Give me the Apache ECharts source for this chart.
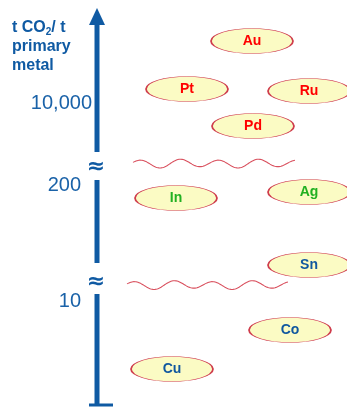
<!DOCTYPE html>
<html><head><meta charset="utf-8">
<script src="https://cdn.jsdelivr.net/npm/echarts@6/dist/echarts.min.js"></script>
<style>html,body{margin:0;padding:0;background:#fff}#c{width:347px;height:408px}</style>
</head><body><div id="c"></div>
<script>
// Metals placed on the diagram: horizontal column and vertical level (higher = more t CO2 / t)
const metals      = ['Au', 'Pt', 'Ru', 'Pd', 'In', 'Ag', 'Sn', 'Co', 'Cu'];
const metalColumn = [252, 187, 309, 253, 176, 309, 309, 290, 172];
const metalLevel  = [367, 319, 317, 282, 210, 216, 143, 78, 39];
const metalGroup  = ['precious', 'precious', 'precious', 'precious', 'minor', 'minor', 'base', 'base', 'base'];

// Axis tick labels and their levels
const tickLabels = ['10,000', '200', '10'];
const tickLevels = [305, 223, 107];

// Axis pieces (levels) and breaks
const segLo = [2, 145, 256];
const segHi = [114, 228, 384];
const breakLevels = [241, 126];
const waveLevels = [244.5, 123];
const waveStart = [133, 127];
const waveEnd = [295, 288];

const AXIS_X = 97;
const BLUE = '#0f5aa3';
const groupColor = { precious: '#ff0000', minor: '#22b022', base: '#10579f' };

const chart = echarts.init(document.getElementById('c'), null, { renderer: 'canvas' });

const ellipse = 'path://M0 50A50 50 0 1 1 100 50A50 50 0 1 1 0 50Z';

chart.setOption({
  animation: false,
  backgroundColor: '#ffffff',
  grid: { left: 0, right: 0, top: 0, bottom: 0, containLabel: false },
  xAxis: { type: 'value', min: 0, max: 347, show: false },
  yAxis: { type: 'value', min: 0, max: 408, show: false },
  graphic: [{
    type: 'text', left: 12, top: 20, z: 10,
    style: {
      text: '{a|t CO}{s|2}{a|/ t}\n{a|primary}\n{a|metal}',
      rich: {
        a: { fontFamily: 'Liberation Sans', fontWeight: 'bold', fontSize: 16, fill: BLUE, lineHeight: 19 },
        s: { fontFamily: 'Liberation Sans', fontWeight: 'bold', fontSize: 10, fill: BLUE, lineHeight: 19, verticalAlign: 'bottom', padding: [7, 0, 0, 0] }
      }
    }
  }],
  series: [
    {
      type: 'custom',
      coordinateSystem: 'cartesian2d',
      silent: true,
      data: segLo.map((lo, i) => [AXIS_X, lo, segHi[i]]),
      renderItem: function (params, api) {
        const x = api.value(0);
        const p1 = api.coord([x, api.value(1)]);
        const p2 = api.coord([x, api.value(2)]);
        const children = [{
          type: 'line',
          shape: { x1: p1[0], y1: p1[1], x2: p2[0], y2: p2[1] },
          style: { stroke: BLUE, lineWidth: 5 }
        }];
        if (params.dataIndex === 2) {
          const tip = api.coord([x, 400]);
          children.push({
            type: 'polygon',
            shape: { points: [[tip[0], tip[1]], [tip[0] - 8, p2[1] + 1], [tip[0] + 8, p2[1] + 1]] },
            style: { fill: BLUE }
          });
        }
        if (params.dataIndex === 0) {
          children.push({
            type: 'line',
            shape: { x1: p1[0] - 8, y1: p1[1] - 1, x2: p1[0] + 16, y2: p1[1] - 1 },
            style: { stroke: BLUE, lineWidth: 3 }
          });
        }
        return { type: 'group', children: children };
      }
    },
    {
      type: 'custom',
      coordinateSystem: 'cartesian2d',
      silent: true,
      data: breakLevels.map((lv, i) => [AXIS_X, lv, waveStart[i], waveEnd[i], waveLevels[i]]),
      renderItem: function (params, api) {
        const c = api.coord([api.value(0), api.value(1)]);
        const a = api.coord([api.value(2), api.value(4)]);
        const b = api.coord([api.value(3), api.value(4)]);
        const pts = [];
        const wl = 39, amp = 3.8;
        for (let px = a[0]; px <= b[0]; px += 1) {
          const t = (px - a[0]) / wl * 2 * Math.PI;
          pts.push([px, a[1] - amp * Math.sin(t + 0.3) + 0.8 * Math.sin(t * 0.5)]);
        }
        return {
          type: 'group',
          children: [
            {
              type: 'text',
              style: {
                text: '≈', x: c[0] - 1, y: c[1], align: 'center', verticalAlign: 'middle',
                fontFamily: 'DejaVu Sans', fontWeight: 'bold', fontSize: 22, fill: BLUE
              }
            },
            {
              type: 'polyline',
              shape: { points: pts },
              style: { stroke: '#d9505e', lineWidth: 1.1, fill: null }
            }
          ]
        };
      }
    },
    {
      type: 'scatter',
      silent: true,
      symbolSize: 0,
      itemStyle: { opacity: 1 },
      data: tickLabels.map((t, i) => ({ value: [t === '10,000' ? 92 : 81, tickLevels[i]], name: t })),
      label: {
        show: true, position: 'left', distance: 0,
        formatter: '{b}', fontFamily: 'Liberation Sans', fontSize: 20, color: '#1a62a8'
      }
    },
    {
      type: 'scatter',
      silent: true,
      symbol: ellipse,
      symbolSize: [82, 25],
      itemStyle: { color: '#fbfbc4', borderColor: '#cf3c4c', borderWidth: 1, opacity: 1 },
      data: metals.map((m, i) => ({
        name: m,
        value: [metalColumn[i], metalLevel[i]],
        label: { color: groupColor[metalGroup[i]] }
      })),
      label: {
        show: true, position: 'inside', formatter: '{b}',
        fontFamily: 'Liberation Sans', fontWeight: 'bold', fontSize: 14
      }
    }
  ]
});
</script>
</body></html>
